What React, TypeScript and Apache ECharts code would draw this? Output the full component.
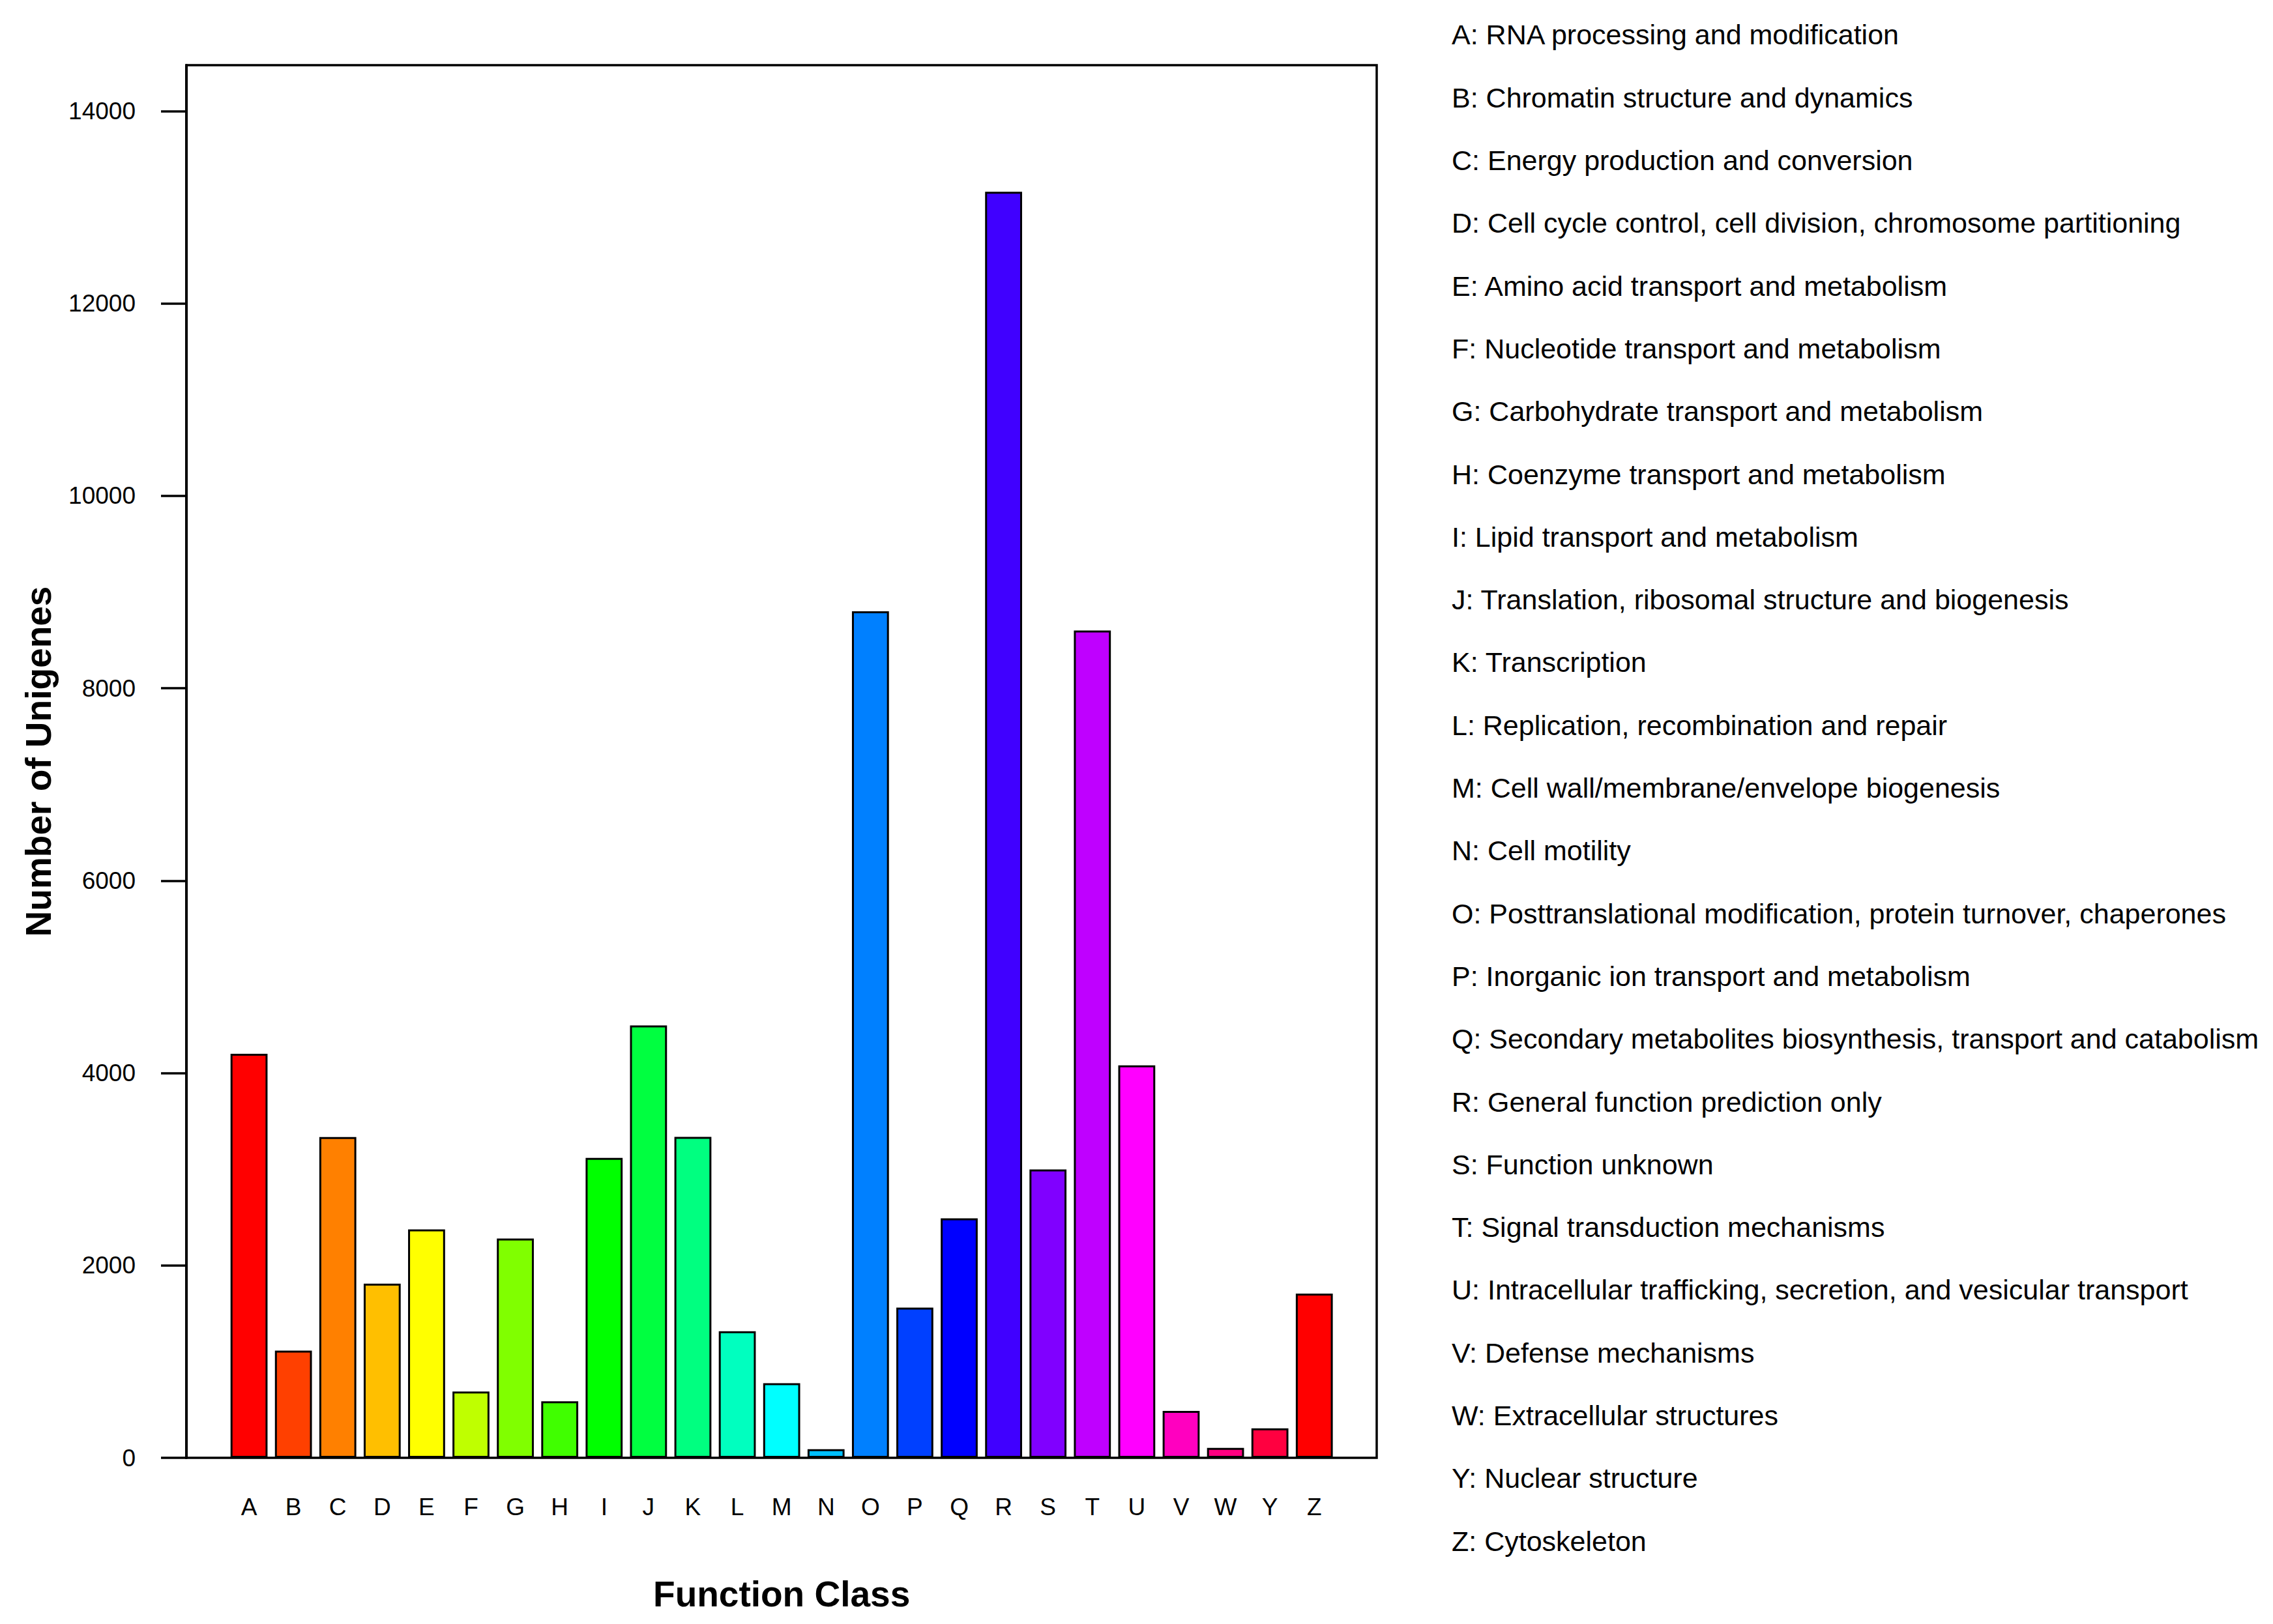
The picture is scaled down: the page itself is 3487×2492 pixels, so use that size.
import React, { useEffect, useRef } from "react";
import * as echarts from "echarts";

const categories = ["A", "B", "C", "D", "E", "F", "G", "H", "I", "J", "K", "L", "M", "N", "O", "P", "Q", "R", "S", "T", "U", "V", "W", "Y", "Z"];

const values = [4200, 1115, 3335, 1810, 2375, 690, 2280, 587, 3118, 4494, 3336, 1316, 775, 89, 8800, 1561, 2489, 13161, 2997, 8600, 4080, 488, 104, 306, 1707];

const barColors = [
  "#FF0000", "#FF4000", "#FF8000", "#FFBF00", "#FFFF00", "#BFFF00", "#80FF00", "#40FF00",
  "#00FF00", "#00FF40", "#00FF80", "#00FFBF", "#00FFFF", "#00BFFF", "#0080FF", "#0040FF",
  "#0000FF", "#4000FF", "#8000FF", "#BF00FF", "#FF00FF", "#FF00BF", "#FF0080", "#FF0040", "#FF0000",
];

const descriptions = [
  "RNA processing and modification",
  "Chromatin structure and dynamics",
  "Energy production and conversion",
  "Cell cycle control, cell division, chromosome partitioning",
  "Amino acid transport and metabolism",
  "Nucleotide transport and metabolism",
  "Carbohydrate transport and metabolism",
  "Coenzyme transport and metabolism",
  "Lipid transport and metabolism",
  "Translation, ribosomal structure and biogenesis",
  "Transcription",
  "Replication, recombination and repair",
  "Cell wall/membrane/envelope biogenesis",
  "Cell motility",
  "Posttranslational modification, protein turnover, chaperones",
  "Inorganic ion transport and metabolism",
  "Secondary metabolites biosynthesis, transport and catabolism",
  "General function prediction only",
  "Function unknown",
  "Signal transduction mechanisms",
  "Intracellular trafficking, secretion, and vesicular transport",
  "Defense mechanisms",
  "Extracellular structures",
  "Nuclear structure",
  "Cytoskeleton",
];

const yTickValues = [0, 2000, 4000, 6000, 8000, 10000, 12000, 14000];
const yMax = 14476;

const xTitle = "Function Class";
const yTitle = "Number of Unigenes";

const FONT = '"Liberation Sans", Arial, Helvetica, sans-serif';

export default function App() {
  const ref = useRef<HTMLDivElement>(null);

  useEffect(() => {
    if (!ref.current) return;
    const chart = echarts.init(ref.current, null, { renderer: "svg" });

    const legendTexts = categories.map((c, i) => ({
      type: "text",
      x: 2227,
      y: 53.4 + i * 96.3,
      silent: true,
      style: {
        text: `${c}: ${descriptions[i]}`,
        fontSize: 43,
        fontFamily: FONT,
        fill: "#000",
        align: "left",
        verticalAlign: "middle",
        textAlign: "left",
        textVerticalAlign: "middle",
      },
    }));

    const option: any = {
      animation: false,
      backgroundColor: "#ffffff",
      textStyle: { fontFamily: FONT },
      grid: [
        {
          left: 286,
          top: 100,
          width: 1826,
          height: 2137,
          show: true,
          borderColor: "#000",
          borderWidth: 3.5,
          backgroundColor: "transparent",
          containLabel: false,
        },
        {
          left: 348,
          top: 100,
          width: 1702.3,
          height: 2137,
          containLabel: false,
        },
      ],
      xAxis: [
        { gridIndex: 0, type: "value", show: false, min: 0, max: 1 },
        {
          gridIndex: 1,
          type: "category",
          data: categories,
          boundaryGap: true,
          axisLine: { show: false },
          axisTick: { show: false },
          splitLine: { show: false },
          axisLabel: {
            interval: 0,
            margin: 57,
            fontSize: 37,
            color: "#000",
            fontFamily: FONT,
          },
          name: xTitle,
          nameLocation: "middle",
          nameGap: 181,
          nameTextStyle: {
            fontSize: 55,
            fontWeight: "bold",
            color: "#000",
            fontFamily: FONT,
          },
        },
      ],
      yAxis: [
        {
          gridIndex: 0,
          type: "value",
          min: 0,
          max: yMax,
          axisLine: { show: true, lineStyle: { color: "#000", width: 4 } },
          axisTick: {
            show: true,
            customValues: yTickValues,
            length: 39,
            lineStyle: { color: "#000", width: 3.5 },
          },
          axisLabel: {
            customValues: yTickValues,
            margin: 78,
            fontSize: 37,
            color: "#000",
            fontFamily: FONT,
            formatter: (v: number) => String(v),
          },
          splitLine: { show: false },
          name: yTitle,
          nameLocation: "middle",
          nameGap: 200,
          nameTextStyle: {
            fontSize: 55,
            fontWeight: "bold",
            color: "#000",
            fontFamily: FONT,
          },
        },
        { gridIndex: 1, type: "value", min: 0, max: yMax, show: false, splitLine: { show: false } },
      ],
      series: [
        {
          type: "bar",
          xAxisIndex: 1,
          yAxisIndex: 1,
          barWidth: "83.33%",
          data: values.map((v, i) => ({
            value: v,
            itemStyle: { color: barColors[i] },
          })),
          itemStyle: { borderColor: "#000", borderWidth: 3 },
        },
      ],
      graphic: [{ type: "group", elements: legendTexts }],
    };

    chart.setOption(option);
    return () => {
      chart.dispose();
    };
  }, []);

  return (
    <div
      ref={ref}
      style={{ position: "absolute", left: 0, top: 0, width: 3487, height: 2492, background: "#fff" }}
    />
  );
}
